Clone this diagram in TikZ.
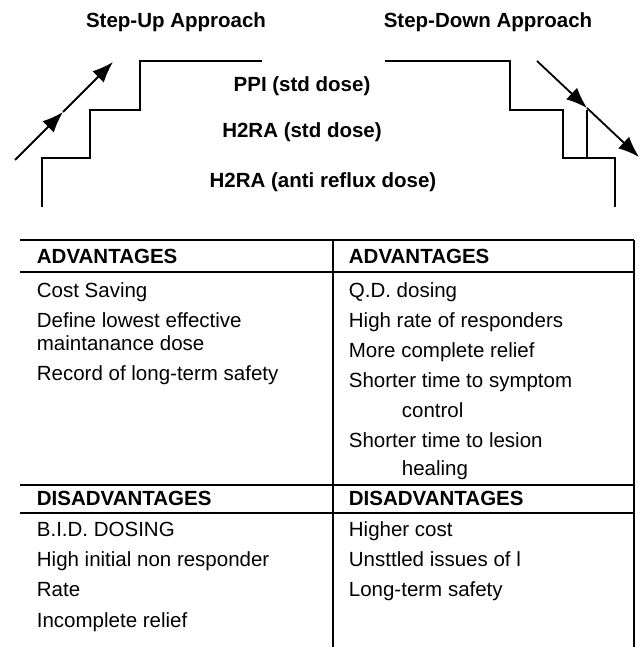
\documentclass[tikz,border=0pt]{standalone}
\usepackage{fontspec}
\setmainfont{Liberation Sans}
\usetikzlibrary{arrows.meta}
% staircase grid
\newcommand{\stpxa}{42}
\newcommand{\stpxb}{90}
\newcommand{\stpxc}{140}
\newcommand{\stpxd}{262}
\newcommand{\stpxe}{385}
\newcommand{\stpxf}{510}
\newcommand{\stpxg}{563}
\newcommand{\stpxh}{587}
\newcommand{\stpxi}{615}
\newcommand{\stpya}{61}
\newcommand{\stpyb}{110}
\newcommand{\stpyc}{158}
\newcommand{\stpyd}{207}
% table grid
\newcommand{\tblxa}{20}
\newcommand{\tblxb}{333}
\newcommand{\tblxc}{634}
\newcommand{\tbltxa}{\tblxa + 16}
\newcommand{\tbltxb}{\tblxb + 15}
\newcommand{\tbltxi}{\tblxb + 68}
\newcommand{\tblya}{240}
\newcommand{\tblyb}{272}
\newcommand{\tblyc}{485}
\newcommand{\tblyd}{513}
\newcommand{\tblye}{647}
\newcommand{\tblrh}{30}
\newcommand{\tblnya}{\tblya + 23}
\newcommand{\tblnyb}{\tblyb + 25}
\newcommand{\tblnyc}{\tblyc + 20}
\newcommand{\tblnyd}{\tblyd + 23}
\newcommand{\tblfnt}{\fontsize{20.5}{24}\selectfont}

\begin{document}
\begin{tikzpicture}[x=1pt,y=-1pt,line width=1.8pt,font=\tblfnt,
    txt/.style={anchor=base west,inner sep=0pt},
    hdr/.style={txt,font=\tblfnt\bfseries},
    ttl/.style={anchor=base,inner sep=0pt,font=\tblfnt\bfseries},
    arr/.style={-{Latex[length=21pt,width=16pt]}}]
    \useasboundingbox (0,0) rectangle (640,647);

    \node (upttl) at (176, 28) [ttl] {Step-Up Approach};
    \node (downttl) at (488, 28) [ttl] {Step-Down Approach};
    \node (ppi) at (302, 92) [ttl] {PPI (std dose)};
    \node (hstd) at (302, 138) [ttl] {H2RA (std dose)};
    \node (hanti) at (323, 187) [ttl] {H2RA (anti reflux dose)};

    \draw (\stpxa, \stpyd) -- (\stpxa, \stpyc) -- (\stpxb, \stpyc)
      -- (\stpxb, \stpyb) -- (\stpxc, \stpyb) -- (\stpxc, \stpya)
      -- (\stpxd, \stpya);
    \draw (\stpxe, \stpya) -- (\stpxf, \stpya) -- (\stpxf, \stpyb)
      -- (\stpxg, \stpyb) -- (\stpxg, \stpyc) -- (\stpxi, \stpyc)
      -- (\stpxi, \stpyd);
    \draw (\stpxh, \stpyb) -- (\stpxh, \stpyc);

    \coordinate (upa) at (15, 160);
    \coordinate (upb) at (63, 112);
    \coordinate (upc) at (113, 62);
    \draw[arr] (upa) -- (upb);
    \draw[arr] (upb) -- (upc);
    \coordinate (downa) at (537, 61);
    \coordinate (downb) at (587, 108);
    \coordinate (downc) at (639, 157);
    \draw[arr] (downa) -- (downb);
    \draw[arr] (downb) -- (downc);

    % table
    \draw (\tblxa, \tblya) -- (\tblxc, \tblya);
    \draw (\tblxa, \tblyb) -- (\tblxc, \tblyb);
    \draw (\tblxa, \tblyc) -- (\tblxc, \tblyc);
    \draw (\tblxa, \tblyd) -- (\tblxc, \tblyd);
    \draw (\tblxb, \tblya) -- (\tblxb, \tblye);
    \draw (\tblxc, \tblya) -- (\tblxc, \tblye);

    \node (advl) at (\tbltxa, \tblnya) [hdr] {ADVANTAGES};
    \node (advr) at (\tbltxb, \tblnya) [hdr] {ADVANTAGES};
    \node (disl) at (\tbltxa, \tblnyc) [hdr] {DISADVANTAGES};
    \node (disr) at (\tbltxb, \tblnyc) [hdr] {DISADVANTAGES};

    \node (cost) at (\tbltxa, \tblnyb) [txt] {Cost Saving};
    \node (defl) at (\tbltxa, \tblnyb + \tblrh) [txt] {Define lowest effective};
    \node (maint) at (\tbltxa, \tblnyb + 53) [txt] {maintanance dose};
    \node (recd) at (\tbltxa, \tblnyb + 83) [txt] {Record of long-term safety};

    \node (qd) at (\tbltxb, \tblnyb) [txt] {Q.D. dosing};
    \node (hrate) at (\tbltxb, \tblnyb + \tblrh) [txt] {High rate of responders};
    \node (relf) at (\tbltxb, \tblnyb + 2*\tblrh) [txt] {More complete relief};
    \node (symp) at (\tbltxb, \tblnyb + 3*\tblrh) [txt] {Shorter time to symptom};
    \node (ctrl) at (\tbltxi, \tblnyb + 4*\tblrh) [txt] {control};
    \node (lesn) at (\tbltxb, \tblnyb + 150) [txt] {Shorter time to lesion};
    \node (heal) at (\tbltxi, \tblnyb + 178) [txt] {healing};

    \node (bid) at (\tbltxa, \tblnyd) [txt] {B.I.D. DOSING};
    \node (hinit) at (\tbltxa, \tblnyd + \tblrh) [txt] {High initial non responder};
    \node (rate) at (\tbltxa, \tblnyd + 2*\tblrh) [txt] {Rate};
    \node (incp) at (\tbltxa, \tblnyd + 91) [txt] {Incomplete relief};

    \node (hcost) at (\tbltxb, \tblnyd) [txt] {Higher cost};
    \node (unst) at (\tbltxb, \tblnyd + \tblrh) [txt] {Unsttled issues of l};
    \node (ltsf) at (\tbltxb, \tblnyd + 2*\tblrh) [txt] {Long-term safety};
  \end{tikzpicture}
\end{document}
